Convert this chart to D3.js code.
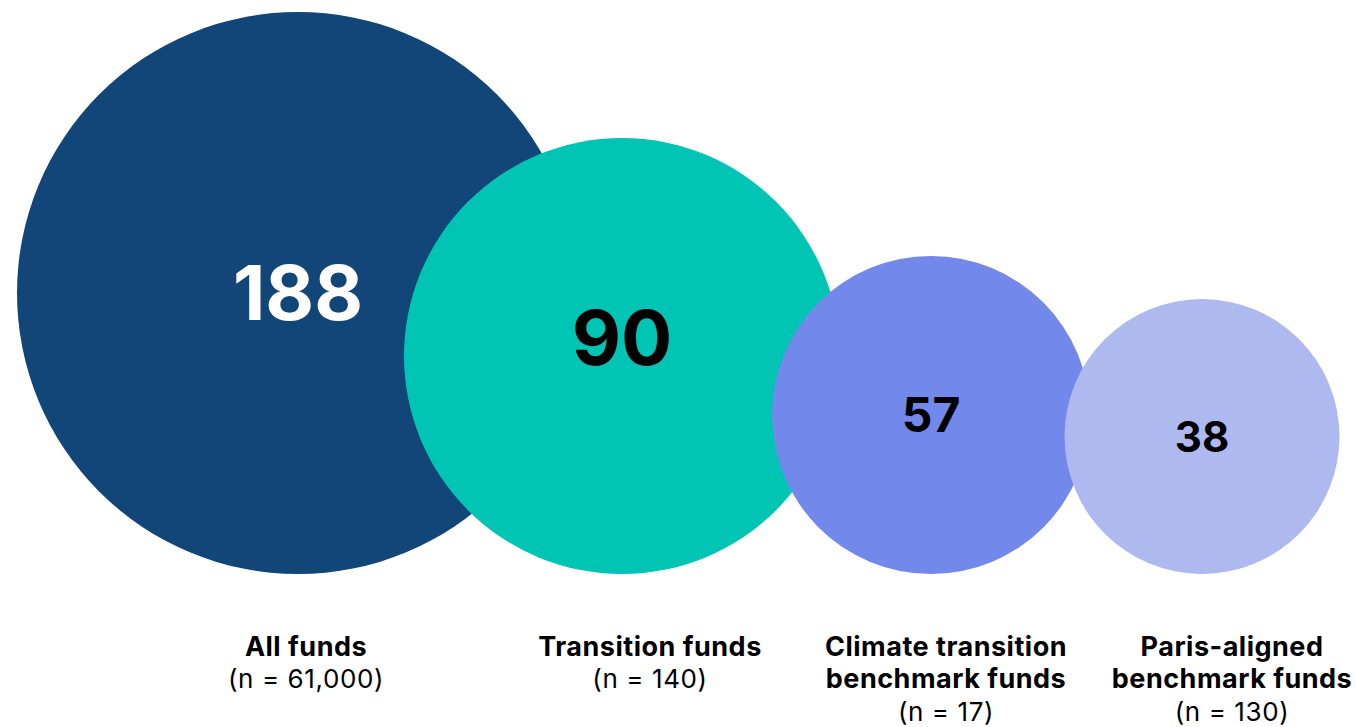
<!DOCTYPE html>
<html>
<head>
<meta charset="utf-8">
<script src="https://cdn.jsdelivr.net/npm/d3@7"></script>
<style>
  html, body { margin: 0; padding: 0; background: #ffffff; }
  svg { display: block; }
  text { font-family: Inter, "Noto Sans", sans-serif; }
</style>
</head>
<body>
<svg id="chart" width="1356" height="727"></svg>
<script>
// ---- data ----
const categories = ["All funds", "Transition funds", "Climate transition benchmark funds", "Paris-aligned benchmark funds"];
const values = [188, 90, 57, 38];
const sampleSizes = ["61,000", "140", "17", "130"];
const labelLines = [["All funds"], ["Transition funds"], ["Climate transition", "benchmark funds"], ["Paris-aligned", "benchmark funds"]];

// ---- styling / layout ----
const colors = ["#124578", "#00c4b4", "#7288eb", "#aeb9ef"];
const valueColors = ["#ffffff", "#000000", "#000000", "#000000"];
const valueDy = [0, -18, 0, 0];

const svg = d3.select("#chart");
const baseY = 574;

// radius scale (circle sizes as drawn in the original)
const sortedVals = values.slice().sort(d3.ascending);
const rScale = d3.scaleLinear().domain(sortedVals).range([137.5, 159, 218, 281]);
// value font size scale
const fScale = d3.scaleLinear().domain(sortedVals).range([42, 48, 76, 75]);

// horizontal placement
const cxScale = d3.scaleOrdinal().domain(categories).range([298, 622, 931, 1202]);
const lxScale = d3.scaleOrdinal().domain(categories).range([306, 650, 946, 1232]);

const data = categories.map((c, i) => ({
  cat: c, value: values[i], n: sampleSizes[i], lines: labelLines[i],
  color: colors[i], tcolor: valueColors[i], dy: valueDy[i]
}));

const g = svg.append("g");

g.selectAll("circle")
  .data(data)
  .join("circle")
  .attr("cx", d => cxScale(d.cat))
  .attr("cy", d => baseY - rScale(d.value))
  .attr("r", d => rScale(d.value))
  .attr("fill", d => d.color);

g.selectAll("text.val")
  .data(data)
  .join("text")
  .attr("class", "val")
  .attr("x", d => cxScale(d.cat))
  .attr("y", d => baseY - rScale(d.value) + d.dy)
  .attr("dy", "0.36em")
  .attr("text-anchor", "middle")
  .attr("font-weight", 700)
  .attr("font-size", d => fScale(d.value))
  .attr("fill", d => d.tcolor)
  .text(d => d.value);

const lineH = 32.5;
const firstBase = 655.5;
const lab = g.selectAll("g.lab")
  .data(data)
  .join("g")
  .attr("class", "lab");

lab.each(function(d) {
  const sel = d3.select(this);
  d.lines.forEach((ln, j) => {
    sel.append("text")
      .attr("x", lxScale(d.cat))
      .attr("y", firstBase + j * lineH)
      .attr("text-anchor", "middle")
      .attr("font-weight", 700)
      .attr("font-size", 27)
      .attr("letter-spacing", "0.5px")
      .attr("fill", "#000")
      .text(ln);
  });
  sel.append("text")
    .attr("x", lxScale(d.cat))
    .attr("y", firstBase + d.lines.length * lineH)
    .attr("text-anchor", "middle")
    .attr("font-weight", 400)
    .attr("font-size", 26)
    .attr("letter-spacing", "0.6px")
    .attr("fill", "#000")
    .text(`(n = ${d.n})`);
});
</script>
</body>
</html>
